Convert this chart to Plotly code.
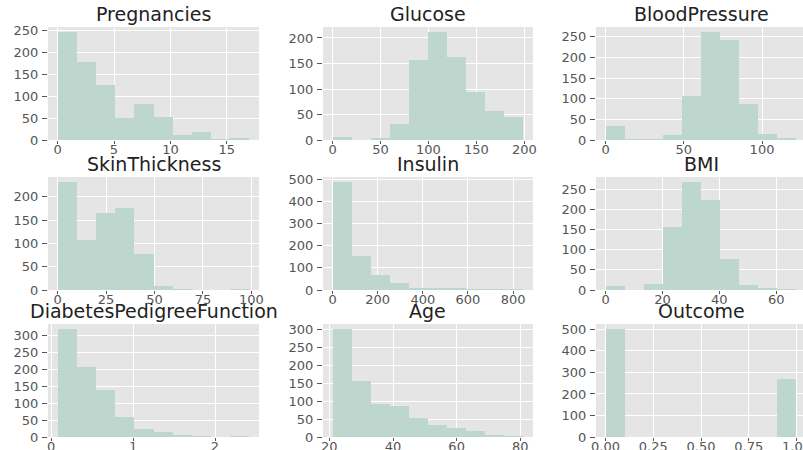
import numpy as np
import plotly.graph_objects as go

# ---- data (counts per histogram bin, 10 bins each) ----
names = ["Pregnancies", "Glucose", "BloodPressure",
         "SkinThickness", "Insulin", "BMI",
         "DiabetesPedigreeFunction", "Age", "Outcome"]
data_min = [0, 0, 0, 0, 0, 0, 0.078, 21, 0]
data_max = [17, 199, 122, 99, 846, 67.1, 2.42, 81, 1]
pregnancies = [246, 178, 125, 50, 83, 52, 11, 19, 1, 3]
glucose = [5, 0, 4, 32, 156, 211, 163, 95, 56, 46]
blood_pressure = [35, 1, 2, 13, 107, 261, 243, 87, 14, 5]
skin_thickness = [231, 107, 165, 175, 78, 9, 2, 0, 0, 1]
insulin = [487, 155, 70, 30, 8, 9, 5, 1, 2, 1]
bmi = [11, 0, 15, 156, 268, 224, 78, 12, 3, 1]
dpf = [318, 206, 138, 58, 25, 15, 4, 2, 0, 2]
age = [300, 157, 92, 86, 52, 34, 26, 16, 4, 1]
outcome = [500, 0, 0, 0, 0, 0, 0, 0, 0, 268]
counts = [pregnancies, glucose, blood_pressure, skin_thickness, insulin,
          bmi, dpf, age, outcome]
xticks = [[0, 5, 10, 15], [0, 50, 100, 150, 200], [0, 50, 100],
          [0, 25, 50, 75, 100], [0, 200, 400, 600, 800], [0, 20, 40, 60],
          [0, 1, 2], [20, 40, 60, 80], [0, 0.25, 0.5, 0.75, 1.0]]
xticktext = [None] * 8 + [["0.00", "0.25", "0.50", "0.75", "1.00"]]
ydtick = [50, 50, 50, 50, 100, 50, 50, 50, 100]

# figure is a little wider than the 803px window: the right column is
# cropped at the window edge, as in the reference
W, H = 810, 450
col_px = [(48, 259), (323, 533), (596, 806)]
row_px = [(27, 140), (177, 290), (324, 437)]

BAR = "#bdd6ce"
BG = "#e5e5e5"
TICK = "#555555"
FONT = "DejaVu Sans"

fig = go.Figure()
annotations = []
for i, name in enumerate(names):
    r, c = divmod(i, 3)
    ax = "" if i == 0 else str(i + 1)
    edges = np.linspace(data_min[i], data_max[i], 11)
    centers = (edges[:-1] + edges[1:]) / 2
    width = edges[1] - edges[0]
    fig.add_trace(go.Bar(x=centers, y=counts[i], width=width,
                         marker=dict(color=BAR, line=dict(width=0)),
                         xaxis="x" + ax, yaxis="y" + ax, showlegend=False))
    span = data_max[i] - data_min[i]
    xr = [data_min[i] - 0.05 * span, data_max[i] + 0.05 * span]
    yr = [0, max(counts[i]) * 1.05]
    x0, x1 = col_px[c]
    y0, y1 = row_px[r]
    xd = [x0 / W, x1 / W]
    yd = [1 - y1 / H, 1 - y0 / H]
    common = dict(showgrid=True, gridcolor="white", gridwidth=1,
                  zeroline=False, ticks="outside", tickcolor=TICK,
                  tickwidth=1, tickfont=dict(family=FONT, size=13, color=TICK),
                  showline=False, fixedrange=True, automargin=False,
                  ticklabeloverflow="allow")
    xa = dict(domain=xd, range=xr, anchor="y" + ax, tickvals=xticks[i],
              ticklen=3, ticklabelstandoff=-6, **common)
    if xticktext[i] is not None:
        xa["ticktext"] = xticktext[i]
    ya = dict(domain=yd, range=yr, anchor="x" + ax, dtick=ydtick[i], tick0=0,
              ticklen=5, ticklabelstandoff=1, **common)
    fig.update_layout(**{"xaxis" + ax: xa, "yaxis" + ax: ya})
    annotations.append(dict(text=name, x=(xd[0] + xd[1]) / 2, y=yd[1],
                            xref="paper", yref="paper", xanchor="center",
                            yanchor="bottom", yshift=0, showarrow=False,
                            font=dict(family=FONT, size=19, color="#222222")))

fig.update_layout(width=W, height=H, margin=dict(l=0, r=0, t=0, b=0),
                  paper_bgcolor="white", plot_bgcolor=BG, bargap=0,
                  annotations=annotations, font=dict(family=FONT))
fig.write_html("out.html", config={"displayModeBar": False},
               post_script="document.body.style.margin='0';"
                           "document.body.style.overflow='hidden';")
